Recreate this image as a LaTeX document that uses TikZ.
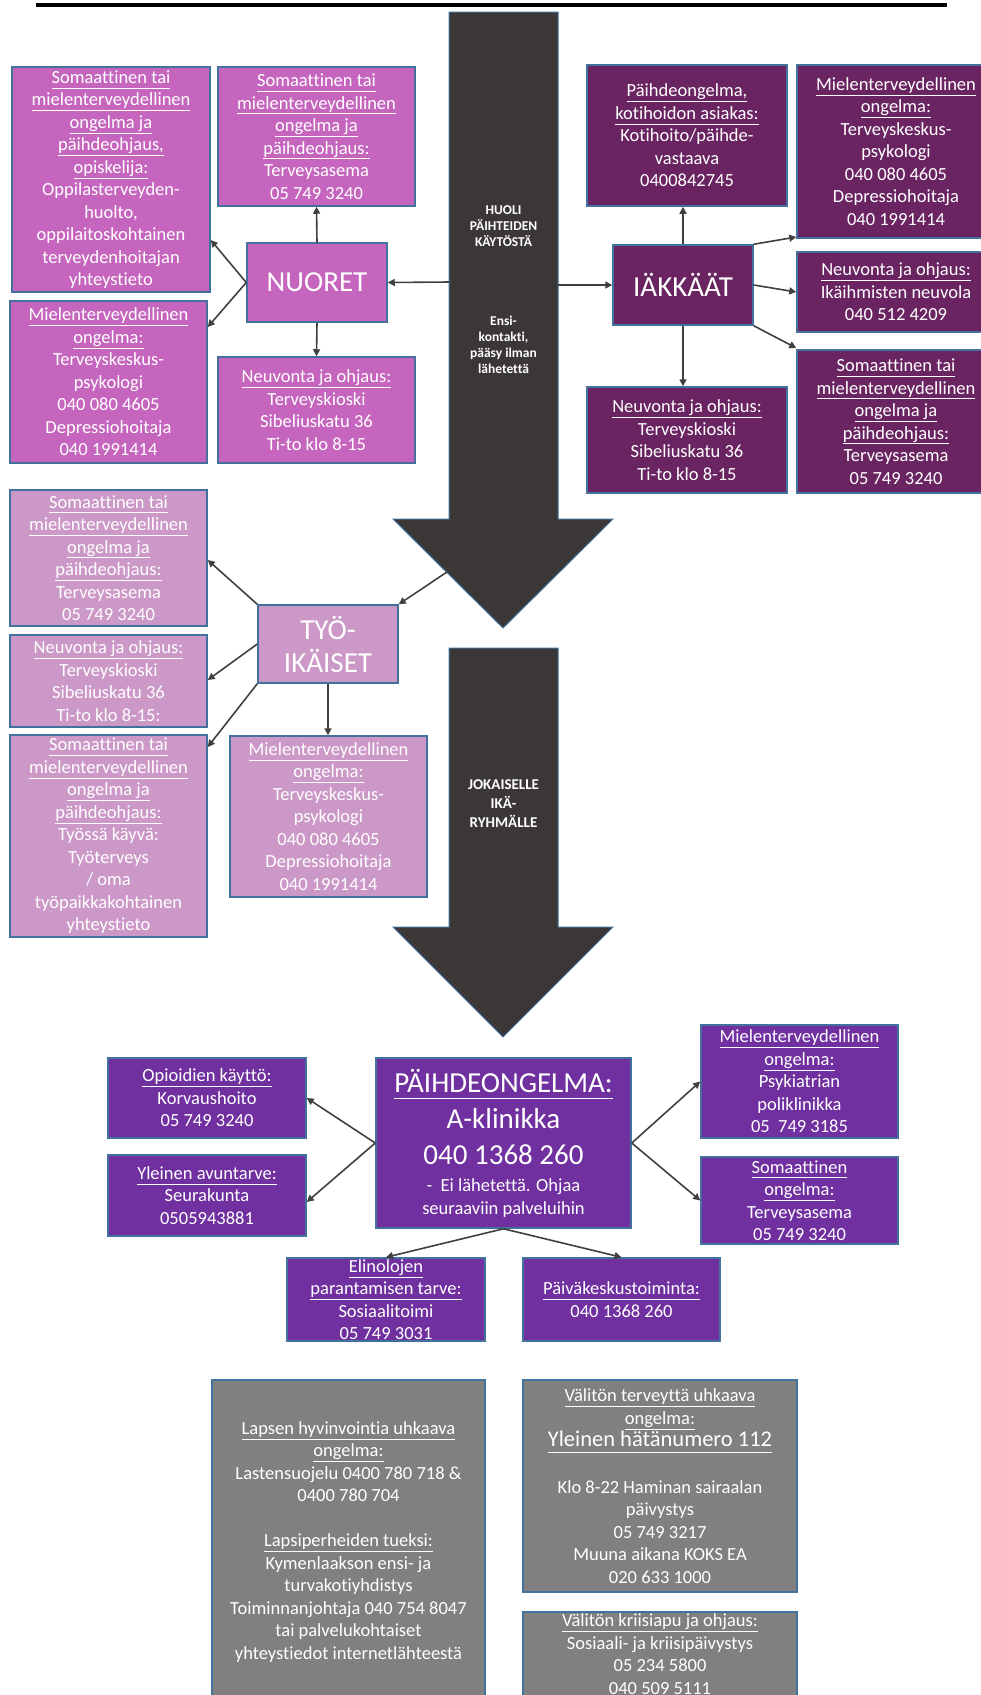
\documentclass[tikz,border=0pt]{standalone}
\usepackage{fontspec}
\setmainfont{Carlito}[Ligatures=NoCommon]
\usetikzlibrary{arrows.meta}

\definecolor{nuoret}{RGB}{197,101,190}
\definecolor{iakkaat}{RGB}{106,36,98}
\definecolor{tyoikaiset}{RGB}{203,152,199}
\definecolor{paihde}{RGB}{112,48,160}
\definecolor{harmaa}{RGB}{128,128,128}
\definecolor{nuoli}{RGB}{58,55,54}
\definecolor{reuna}{RGB}{65,113,156}
\definecolor{viiva}{RGB}{64,64,64}

\newcommand{\pieni}{\fontsize{18.5}{22.5}\selectfont}
\newcommand{\iso}{\fontsize{29}{34}\selectfont}
\newcommand{\keski}{\fontsize{22.5}{24}\selectfont}
\newcommand{\otsikko}[1]{\underline{#1\vphantom{gy}}}

\begin{document}
\begin{tikzpicture}[x=1pt, y=-1pt,
        laatikko/.style={draw=reuna, line width=1.5pt, text=white, align=center, inner sep=0pt, font=\pieni},
        nuorbox/.style={laatikko, fill=nuoret},
        iakbox/.style={laatikko, fill=iakkaat},
        tyobox/.style={laatikko, fill=tyoikaiset},
        paibox/.style={laatikko, fill=paihde},
        harbox/.style={laatikko, fill=harmaa},
        ryhma/.style={font=\iso},
        yhteys/.style={draw=viiva, line width=1.6pt, -{Triangle[length=7pt, width=7pt]}},
        isonuoli/.style={fill=nuoli, draw=reuna, line width=1pt},
        nuoliteksti/.style={text=white, align=center, font=\fontsize{13.5}{16}\selectfont\bfseries}]
            \useasboundingbox (0,0) rectangle (981,1695);
            \clip (0,0) rectangle (981,1695);

            \draw[line width=4pt] (36,5) -- (947,5);

            % Frecce grandi
            \draw[isonuoli] (449,12) -- (558,12) -- (558,519) -- (613,519) -- (503,628) -- (393,519) -- (449,519) -- cycle;
            \draw[isonuoli] (449,648) -- (558,648) -- (558,927) -- (613,927) -- (503,1037) -- (393,927) -- (449,927) -- cycle;
            \node[nuoliteksti] (huoli) at (503.5,290) {HUOLI\\PÄIHTEIDEN\\KÄYTÖSTÄ\\[63pt]Ensi-\\kontakti,\\pääsy ilman\\lähetettä};
            \node[nuoliteksti, font=\fontsize{15}{19}\selectfont\bfseries] (jokaiselle) at (503.5,804) {JOKAISELLE\\IKÄ-\\RYHMÄLLE};
            \coordinate (h1) at (449,282);
            \coordinate (h2) at (558,285);
            \coordinate (h3) at (447,572);

            % Nuoret
            \node[nuorbox, ryhma, minimum width=140pt, minimum height=79pt] (nuo) at (317,282.5) {NUORET};
            \node[nuorbox, minimum width=198pt, minimum height=225pt] (nuoA) at (111,179.5) {\otsikko{Somaattinen tai}\\\otsikko{mielenterveydellinen}\\\otsikko{ongelma ja}\\\otsikko{päihdeohjaus,}\\\otsikko{opiskelija:}\\Oppilasterveyden-\\huolto,\\oppilaitoskohtainen\\terveydenhoitajan\\yhteystieto};
            \node[nuorbox, minimum width=197pt, minimum height=139pt] (nuoB) at (316.5,136.5) {\otsikko{Somaattinen tai}\\\otsikko{mielenterveydellinen}\\\otsikko{ongelma ja}\\\otsikko{päihdeohjaus:}\\Terveysasema\\05 749 3240};
            \node[nuorbox, minimum width=197pt, minimum height=162pt] (nuoC) at (108.5,382) {\otsikko{Mielenterveydellinen}\\\otsikko{ongelma:}\\Terveyskeskus-\\psykologi\\040 080 4605\\Depressiohoitaja\\040 1991414};
            \node[nuorbox, minimum width=197pt, minimum height=106pt] (nuoD) at (316.5,410) {\otsikko{Neuvonta ja ohjaus:}\\Terveyskioski\\Sibeliuskatu 36\\Ti-to klo 8-15};

            % Iäkkäät
            \node[iakbox, ryhma, minimum width=140pt, minimum height=80pt] (iak) at (683,285) {IÄKKÄÄT};
            \node[iakbox, minimum width=200pt, minimum height=141pt] (iakE) at (687,135.5) {\otsikko{Päihdeongelma,}\\\otsikko{kotihoidon asiakas:}\\Kotihoito/päihde-\\vastaava\\0400842745};
            \node[iakbox, minimum width=198pt, minimum height=173pt] (iakF) at (896,151.5) {\otsikko{Mielenterveydellinen}\\\otsikko{ongelma:}\\Terveyskeskus-\\psykologi\\040 080 4605\\Depressiohoitaja\\040 1991414};
            \node[iakbox, minimum width=198pt, minimum height=80pt] (iakG) at (896,292) {\otsikko{Neuvonta ja ohjaus:}\\Ikäihmisten neuvola\\040 512 4209};
            \node[iakbox, minimum width=200pt, minimum height=106pt] (iakH) at (687,440) {\otsikko{Neuvonta ja ohjaus:}\\Terveyskioski\\Sibeliuskatu 36\\Ti-to klo 8-15};
            \node[iakbox, minimum width=198pt, minimum height=143pt] (iakI) at (896,421.5) {\otsikko{Somaattinen tai}\\\otsikko{mielenterveydellinen}\\\otsikko{ongelma ja}\\\otsikko{päihdeohjaus:}\\Terveysasema\\05 749 3240};

            % Työikäiset
            \node[tyobox, ryhma, minimum width=140pt, minimum height=78pt, font=\fontsize{29}{33}\selectfont] (tyo) at (328,644) {TYÖ-\\IKÄISET};
            \node[tyobox, minimum width=197pt, minimum height=136pt] (tyoJ) at (108.5,558) {\otsikko{Somaattinen tai}\\\otsikko{mielenterveydellinen}\\\otsikko{ongelma ja}\\\otsikko{päihdeohjaus:}\\Terveysasema\\05 749 3240};
            \node[tyobox, minimum width=197pt, minimum height=92pt] (tyoK) at (108.5,681) {\otsikko{Neuvonta ja ohjaus:}\\Terveyskioski\\Sibeliuskatu 36\\Ti-to klo 8-15:};
            \node[tyobox, minimum width=197pt, minimum height=202pt] (tyoL) at (108.5,836) {\otsikko{Somaattinen tai}\\\otsikko{mielenterveydellinen}\\\otsikko{ongelma ja}\\\otsikko{päihdeohjaus:}\\Työssä käyvä:\\Työterveys\\/ oma\\työpaikkakohtainen\\yhteystieto};
            \node[tyobox, minimum width=197pt, minimum height=161pt] (tyoM) at (328.5,816.5) {\otsikko{Mielenterveydellinen}\\\otsikko{ongelma:}\\Terveyskeskus-\\psykologi\\040 080 4605\\Depressiohoitaja\\040 1991414};

            % Päihdeongelma
            \node[paibox, minimum width=255pt, minimum height=170pt, font=\fontsize{29}{36}\selectfont] (pai) at (503.5,1143) {\otsikko{PÄIHDEONGELMA:}\\A-klinikka\\040 1368 260\\[-9pt]{\pieni -\ \ Ei lähetettä. Ohjaa}\\[-13pt]{\pieni seuraaviin palveluihin}};
            \node[paibox, minimum width=198pt, minimum height=80pt] (paiN) at (207,1098) {\otsikko{Opioidien käyttö:}\\Korvaushoito\\05 749 3240};
            \node[paibox, minimum width=198pt, minimum height=81pt] (paiO) at (207,1195.5) {\otsikko{Yleinen avuntarve:}\\Seurakunta\\0505943881};
            \node[paibox, minimum width=197pt, minimum height=113pt] (paiP) at (799.5,1081.5) {\otsikko{Mielenterveydellinen}\\\otsikko{ongelma:}\\Psykiatrian\\poliklinikka\\05~~749 3185};
            \node[paibox, minimum width=197pt, minimum height=87pt] (paiQ) at (799.5,1200.5) {\otsikko{Somaattinen}\\\otsikko{ongelma:}\\Terveysasema\\05 749 3240};
            \node[paibox, minimum width=198pt, minimum height=83pt] (paiR) at (386,1299.5) {\otsikko{Elinolojen}\\\otsikko{parantamisen tarve:}\\Sosiaalitoimi\\05 749 3031};
            \node[paibox, minimum width=197pt, minimum height=83pt] (paiS) at (621.5,1299.5) {\otsikko{Päiväkeskustoiminta:}\\040 1368 260};

            % Muut
            \node[harbox, minimum width=273pt, minimum height=324pt] (harA) at (348.5,1542) {\otsikko{Lapsen hyvinvointia uhkaava}\\\otsikko{ongelma:}\\Lastensuojelu 0400 780 718 \&\\0400 780 704\\[22.5pt]\otsikko{Lapsiperheiden tueksi:}\\Kymenlaakson ensi- ja\\turvakotiyhdistys\\Toiminnanjohtaja 040 754 8047\\tai palvelukohtaiset\\yhteystiedot internetlähteestä};
            \node[harbox, minimum width=274pt, minimum height=212pt] (harB) at (660,1486) {\otsikko{Välitön terveyttä uhkaava}\\\otsikko{ongelma:}\\{\keski\otsikko{Yleinen hätänumero 112}}\\[24pt]Klo 8-22 Haminan sairaalan\\päivystys\\05 749 3217\\Muuna aikana KOKS EA\\020 633 1000};
            \node[harbox, minimum width=274pt, minimum height=84pt] (harC) at (660,1654) {\otsikko{Välitön kriisiapu ja ohjaus:}\\Sosiaali- ja kriisipäivystys\\05 234 5800\\040 509 5111};

            % Archi
            \foreach \a/\b in {h1/nuo.east, nuo.north/nuoB.south, nuo.south/nuoD.north, h2/iak.west, iak.east/iakG.west, h3/tyo.north east, pai.west/paiN.east, pai.east/paiP.west, pai.east/paiQ.west, pai.south/paiR.north, pai.south/paiS.north} {
                    \draw[yhteys] (\a) -- (\b);
                }
            \draw[yhteys] (nuo.west) -- (nuoA.east |- 0,240);
            \draw[yhteys] (nuo.west) -- (nuoC.east |- 0,327);
            \draw[yhteys] (iak.north) -- (iak.north |- iakE.south);
            \draw[yhteys] (iak.south) -- (iak.south |- iakH.north);
            \draw[yhteys] (iak.north east) -- (iakF.west |- 0,237);
            \draw[yhteys] (iak.south east) -- (iakI.west |- 0,348);
            \draw[yhteys] (tyo.north west) -- (tyoJ.east |- 0,560);
            \draw[yhteys] (tyo.west) -- (tyoK.east |- 0,680);
            \draw[yhteys] (tyo.south west) -- (tyoL.east |- 0,747);
            \draw[yhteys] (tyo.south) -- (tyo.south |- tyoM.north);
            \draw[yhteys] (pai.west) -- (paiO.east |- 0,1202);
        \end{tikzpicture}
\end{document}
